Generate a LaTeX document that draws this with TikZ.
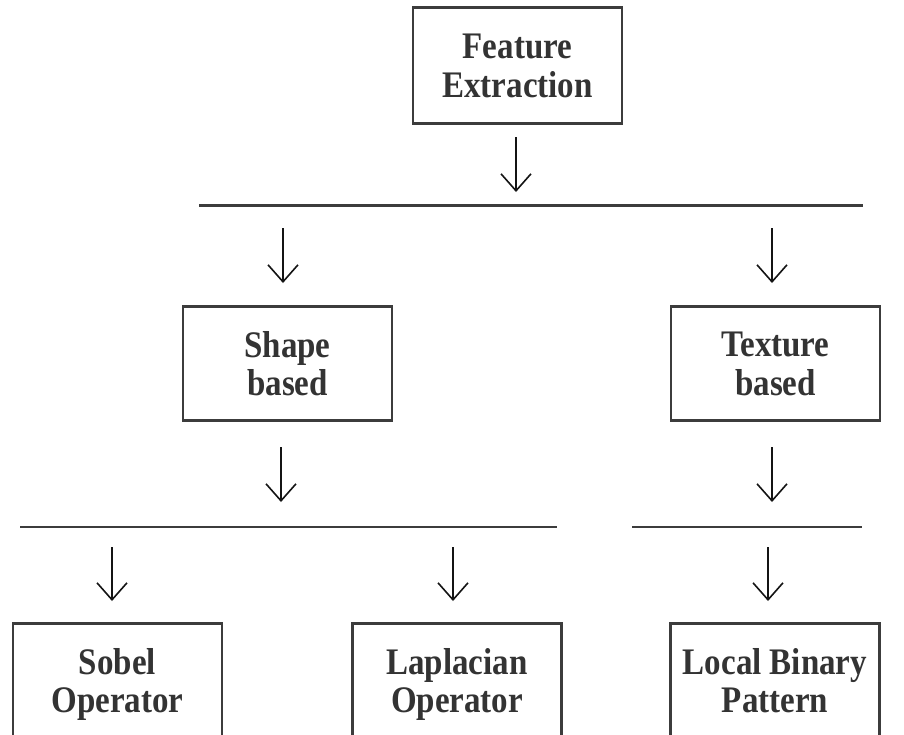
\documentclass[tikz,border=0pt]{standalone}
\usepackage{fontspec}
\setmainfont{Liberation Serif}
\newfontfamily\boxfont{Liberation Serif}[FakeStretch=0.88]
\usetikzlibrary{arrows.meta}
\definecolor{boxline}{HTML}{3C3C3C}
\definecolor{boxtext}{HTML}{333333}
\definecolor{arrowink}{HTML}{141414}
\tikzset{
  stagebox/.style={draw=boxline, line width=2.7pt, rectangle, align=center,
    minimum width=209pt, minimum height=114pt, inner sep=0pt, text depth=0pt,
    text=boxtext, font=\boxfont\fontsize{37.5}{38.5}\selectfont\bfseries},
  downarrow/.style={draw=arrowink, line width=1.6pt,
    -{Straight Barb[length=17pt,width=30pt,line width=1.6pt]}},
  splitline/.style={draw=boxline, line width=2pt},
  mainsplit/.style={draw=boxline, line width=3pt}
}
\begin{document}
\begin{tikzpicture}[x=1pt,y=-1pt]
  \useasboundingbox (0,0) rectangle (904,734);
  \clip (0,0) rectangle (904,734);
  \fill[white] (0,0) rectangle (904,734);

  % boxes
  \node[stagebox, minimum height=116pt] (fe) at (517.5,65.5) {Feature\\Extraction};
  \node[stagebox] (shape) at (287.5,363.5) {Shape\\based};
  \node[stagebox] (texture) at (775.5,363.5) {Texture\\based};
  \node[stagebox] (sobel) at (117.5,680.5) {Sobel\\Operator};
  \node[stagebox] (lap) at (457,680.5) {Laplacian\\Operator};
  \node[stagebox] (lbp) at (775,680.5) {Local Binary\\Pattern};

  % branch lines
  \coordinate (m1) at (199,205); \coordinate (m2) at (863,205);
  \coordinate (s1) at (20,527);  \coordinate (s2) at (557,527);
  \coordinate (t1) at (632,527); \coordinate (t2) at (862,527);
  \draw[mainsplit] (m1) -- (m2);
  \draw[splitline] (s1) -- (s2);
  \draw[splitline] (t1) -- (t2);

  % floating arrows
  \coordinate (a1) at (516,137); \coordinate (b1) at (516,192);
  \coordinate (a2) at (283,228); \coordinate (b2) at (283,283);
  \coordinate (a3) at (772,228); \coordinate (b3) at (772,283);
  \coordinate (a4) at (281,447); \coordinate (b4) at (281,502);
  \coordinate (a5) at (772,447); \coordinate (b5) at (772,502);
  \coordinate (a6) at (112,547); \coordinate (b6) at (112,601);
  \coordinate (a7) at (453,547); \coordinate (b7) at (453,601);
  \coordinate (a8) at (768,547); \coordinate (b8) at (768,601);
  \foreach \i in {1,...,8} { \draw[downarrow] (a\i) -- (b\i); }
\end{tikzpicture}
\end{document}
